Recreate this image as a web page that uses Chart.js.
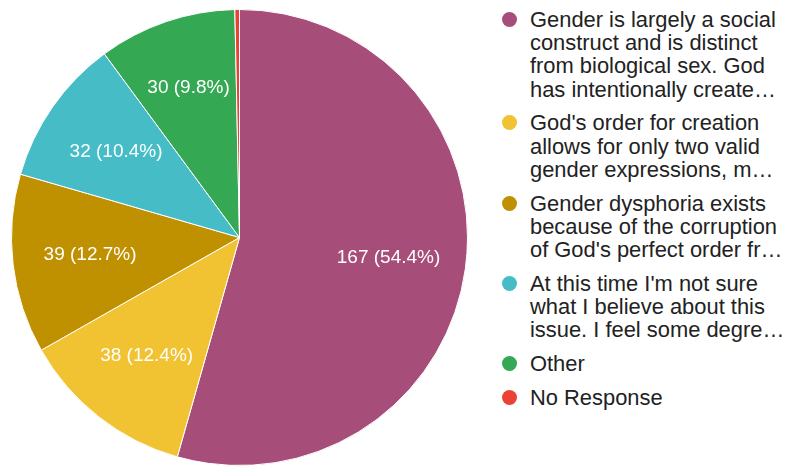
<!DOCTYPE html>
<html>
<head>
<meta charset="utf-8">
<script src="https://cdn.jsdelivr.net/npm/chart.js@4.4.1/dist/chart.umd.min.js"></script>
<style>
    body { margin: 0; background: #fff; font-family: Arial, "Liberation Sans", sans-serif; }
    #wrap { position: absolute; left: 0; top: 0; width: 480px; height: 466px; }
    #legend { position: absolute; left: 502px; top: 8px; margin: 0; padding: 0; list-style: none; }
    #legend li { position: relative; padding-left: 28px; font-size: 21.9px; line-height: 23.2px; color: #222; margin-bottom: 10.6px; white-space: nowrap; }
    #legend .dot { position: absolute; left: 0; top: 4px; width: 15px; height: 15px; border-radius: 50%; }
</style>
</head>
<body>
<div id="wrap"><canvas id="pie"></canvas></div>
<ul id="legend"></ul>
<script>
// Survey answers, clockwise from the top
const categories = [
    ['Gender is largely a social', 'construct and is distinct', 'from biological sex. God', 'has intentionally create\u2026'],
    ["God's order for creation", 'allows for only two valid', 'gender expressions, m\u2026'],
    ['Gender dysphoria exists', 'because of the corruption', "of God's perfect order fr\u2026"],
    ["At this time I'm not sure", 'what I believe about this', 'issue. I feel some degre\u2026'],
    ['Other'],
    ['No Response']
];
const values = [167, 38, 39, 32, 30, 1];
const sliceColors = ['#a64d79', '#f1c232', '#bf9000', '#46bdc6', '#34a853', '#ea4335'];

const total = values.reduce((a, b) => a + b, 0);

// Build the legend on the right
const legendEl = document.getElementById('legend');
categories.forEach((lines, i) => {
    const li = document.createElement('li');
    const dot = document.createElement('span');
    dot.className = 'dot';
    dot.style.background = sliceColors[i];
    li.appendChild(dot);
    lines.forEach((line, j) => {
        if (j > 0) li.appendChild(document.createElement('br'));
        li.appendChild(document.createTextNode(line));
    });
    legendEl.appendChild(li);
});

// Value + percent labels inside the slices
const sliceLabels = {
    id: 'sliceLabels',
    afterDatasetsDraw(chart) {
        const ctx = chart.ctx;
        const meta = chart.getDatasetMeta(0);
        ctx.save();
        ctx.font = '19px Arial, "Liberation Sans", sans-serif';
        ctx.fillStyle = '#fff';
        ctx.textAlign = 'center';
        ctx.textBaseline = 'middle';
        meta.data.forEach((arc, i) => {
            const pct = values[i] / total * 100;
            if (pct < 5) return;
            const text = values[i] + ' (' + pct.toFixed(1) + '%)';
            const p = arc.getProps(['x', 'y', 'startAngle', 'endAngle', 'outerRadius'], true);
            const mid = (p.startAngle + p.endAngle) / 2;
            const w = ctx.measureText(text).width;
            const h = 19;

            function fits(cx, cy) {
                const corners = [[-w / 2, -h / 2], [w / 2, -h / 2], [w / 2, h / 2], [-w / 2, h / 2]];
                return corners.every(([dx, dy]) => {
                    const px = cx + dx - p.x, py = cy + dy - p.y;
                    if (Math.hypot(px, py) > p.outerRadius - 4) return false;
                    let a = Math.atan2(py, px);
                    while (a < p.startAngle) a += Math.PI * 2;
                    while (a > p.startAngle + Math.PI * 2) a -= Math.PI * 2;
                    return a >= p.startAngle + 0.04 && a <= p.endAngle - 0.04;
                });
            }

            let d = p.outerRadius * 0.66;
            while (d < p.outerRadius * 0.95 &&
                   !fits(p.x + Math.cos(mid) * d, p.y + Math.sin(mid) * d)) {
                d += 1;
            }
            ctx.fillText(text, p.x + Math.cos(mid) * d, p.y + Math.sin(mid) * d);
        });
        ctx.restore();
    }
};

new Chart(document.getElementById('pie').getContext('2d'), {
    type: 'pie',
    data: {
        labels: categories.map(l => l.join(' ')),
        datasets: [{
            data: values,
            backgroundColor: sliceColors,
            borderColor: '#fff',
            borderWidth: 1
        }]
    },
    options: {
        responsive: true,
        maintainAspectRatio: false,
        animation: false,
        layout: { padding: { left: 11, top: 9, right: 12, bottom: 0 } },
        plugins: {
            legend: { display: false },
            tooltip: { enabled: false }
        }
    },
    plugins: [sliceLabels]
});
</script>
</body>
</html>
